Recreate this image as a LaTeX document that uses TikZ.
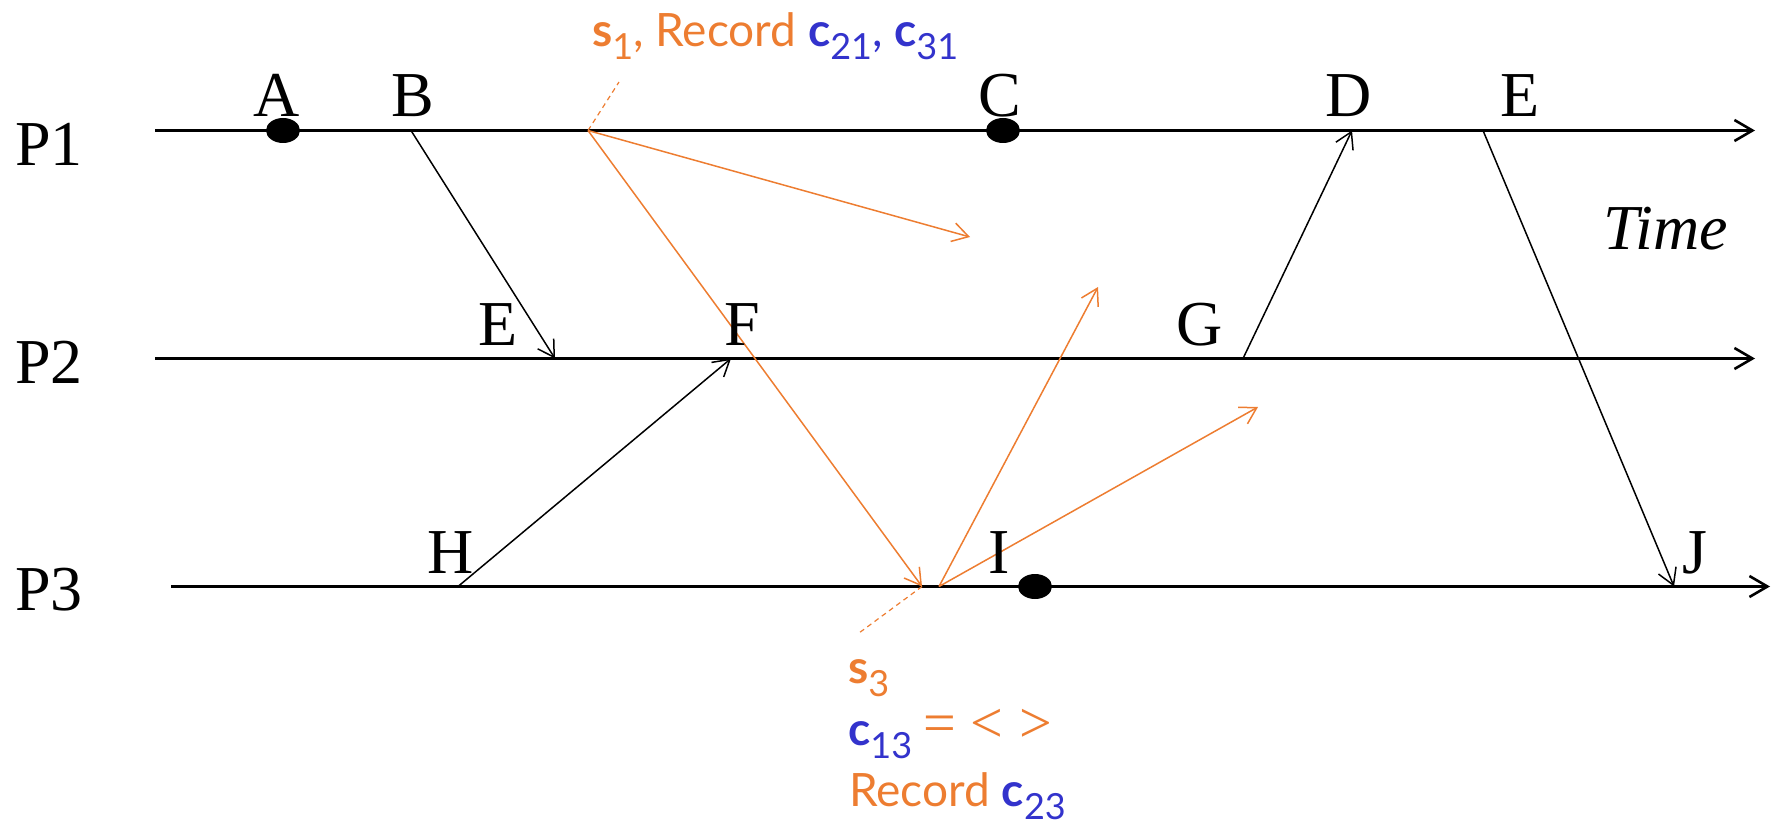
\documentclass[tikz,border=0pt]{standalone}
\usepackage{fontspec}
\setmainfont{Liberation Serif}
\newfontfamily\gillfont{Lato}
\newfontfamily\relfont{Liberation Serif}
\usetikzlibrary{arrows.meta,shapes.geometric}
\definecolor{sorange}{RGB}{237,125,49}
\definecolor{cblue}{RGB}{51,51,204}
\newcommand{\subs}[1]{\raisebox{-13pt}{\fontsize{36}{36}\selectfont #1}}
\newcommand{\relsym}[1]{\raisebox{3pt}{\relfont\fontsize{58}{58}\selectfont #1}}
\begin{document}
\begin{tikzpicture}[x=1pt,y=-1pt,
  procline/.style={line width=2.6pt,-{Straight Barb[length=18pt,width=21pt]}},
  msg/.style={line width=1.5pt,-{Straight Barb[length=16pt,width=19pt]}},
  snapmsg/.style={msg,draw=sorange},
  snapdash/.style={draw=sorange,line width=1.2pt,dash pattern=on 5pt off 4pt},
  lbl/.style={font=\fontsize{64}{64}\selectfont,inner sep=0pt,anchor=base},
  plbl/.style={font=\fontsize{64}{64}\selectfont,inner sep=0pt,anchor=base west},
  evdot/.style={ellipse,fill=black,minimum width=34pt,minimum height=25pt,inner sep=0pt},
  note/.style={font=\gillfont\fontsize{46}{46}\selectfont,inner sep=0pt,anchor=base west,text=sorange}]
\useasboundingbox (0,0) rectangle (1779,826);
% process lines
\coordinate (p1s) at (155,130.5); \coordinate (p1e) at (1755,130.5);
\coordinate (p2s) at (155,358.5); \coordinate (p2e) at (1755,358.5);
\coordinate (p3s) at (171,586.5); \coordinate (p3e) at (1770,586.5);
\draw[procline] (p1s) -- (p1e);
\draw[procline] (p2s) -- (p2e);
\draw[procline] (p3s) -- (p3e);
\node[plbl] (P1) at (15,166) {P1};
\node[plbl] (P2) at (15,383) {P2};
\node[plbl] (P3) at (15,610) {P3};
% event points
\coordinate (b1) at (411,130.5);
\coordinate (e2) at (555,358.5);
\coordinate (h3) at (458,586.5);
\coordinate (f2) at (731,358.5);
\coordinate (g2) at (1243,358.5);
\coordinate (d1) at (1352,130.5);
\coordinate (e1) at (1483,130.5);
\coordinate (j3) at (1674,586.5);
\coordinate (s1) at (588,130.5);
\coordinate (o1) at (970,237);
\coordinate (s3) at (922,586.5);
\coordinate (r3) at (939,586.5);
\coordinate (o2) at (1098,287);
\coordinate (o3) at (1258,407);
\coordinate (s1n) at (619,82);
\coordinate (s3n) at (859,633);
% messages
\draw[msg] (b1) -- (e2);
\draw[msg] (h3) -- (f2);
\draw[msg] (g2) -- (d1);
\draw[msg] (e1) -- (j3);
% snapshot messages
\draw[snapmsg] (s1) -- (o1);
\draw[snapmsg] (s1) -- (s3);
\draw[snapmsg] (r3) -- (o2);
\draw[snapmsg] (r3) -- (o3);
\draw[snapdash] (s1) -- (s1n);
\draw[snapdash] (s3) -- (s3n);
% dots
\node[evdot] (dA) at (283,130.5) {};
\node[evdot] (dC) at (1003,130.5) {};
\node[evdot] (dI) at (1035,586.5) {};
% letters
\node[lbl] (A) at (277,117) {A};
\node[lbl] (B) at (413,117) {B};
\node[lbl] (C) at (1000,117) {C};
\node[lbl] (D) at (1349,117) {D};
\node[lbl] (E) at (1520,117) {E};
\node[lbl] (E2) at (498,345) {E};
\node[lbl] (F) at (742,345) {F};
\node[lbl] (G) at (1200,345) {G};
\node[lbl] (H) at (451,573) {H};
\node[lbl] (I) at (999,573) {I};
\node[lbl] (J) at (1695,573) {J};
\node[plbl,font=\fontsize{64}{64}\selectfont\itshape] (time) at (1603,250) {Time};
% notes
\node[note] (n1) at (592,47) {\textbf{s}\subs{1}, Record \color{cblue}\textbf{c}\subs{21}, \textbf{c}\subs{31}};
\node[note] (n2) at (848,683) {\textbf{s}\subs{3}};
\node[note] (n3) at (848,745) {{\color{cblue}\textbf{c}\subs{13}}\hspace{11pt}\relsym{=}\hspace{15pt}\relsym{<}\hspace{16pt}\relsym{>}};
\node[note] (n4) at (849,806) {Record \color{cblue}\textbf{c}\subs{23}};
\end{tikzpicture}
\end{document}
